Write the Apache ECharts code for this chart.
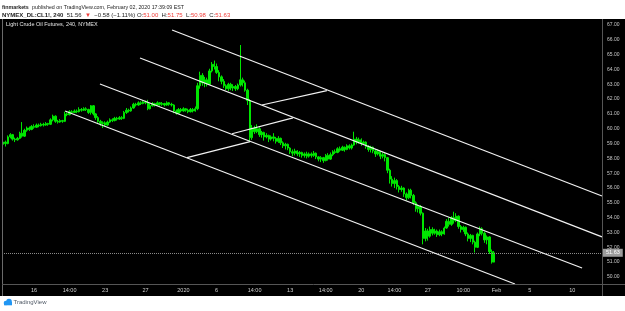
<!DOCTYPE html>
<html>
<head>
<meta charset="utf-8">
<title>Light Crude Oil Futures, 240, NYMEX</title>
<script src="https://cdn.jsdelivr.net/npm/echarts/dist/echarts.min.js"></script>
<style>
  html, body { margin: 0; padding: 0; background: #fff; }
  #chart { width: 625px; height: 311px; }
</style>
</head>
<body>
<div id="chart"></div>
<script>
// 4h bars, one row per bar: [open, close, low, high]
const ohlc = [
  [58.95, 59.10, 58.85, 59.15], [59.10, 59.00, 58.80, 59.20], [59.00, 59.45, 58.95, 59.55],
  [59.45, 59.60, 59.35, 59.70], [59.60, 59.30, 59.20, 59.65], [59.30, 59.25, 59.10, 59.40],
  [59.25, 59.35, 59.20, 59.45], [59.35, 59.70, 59.30, 59.80], [59.70, 59.50, 59.40, 60.45],
  [59.50, 59.90, 59.45, 60.00], [59.90, 60.05, 59.80, 60.15], [60.05, 59.95, 59.85, 60.15],
  [59.95, 60.15, 59.90, 60.25], [60.15, 60.10, 60.00, 60.30], [60.10, 60.25, 60.05, 60.35],
  [60.25, 60.20, 60.10, 60.35], [60.20, 60.30, 60.15, 60.40], [60.30, 60.25, 60.15, 60.40],
  [60.25, 60.35, 60.20, 60.45], [60.35, 60.30, 60.20, 60.40], [60.30, 60.60, 60.25, 60.70],
  [60.60, 60.85, 60.50, 60.95], [60.85, 60.50, 60.40, 60.90], [60.50, 60.45, 60.35, 60.60],
  [60.45, 60.55, 60.40, 60.65], [60.55, 60.50, 60.40, 60.60], [60.50, 61.00, 60.45, 61.15],
  [61.00, 60.95, 60.85, 61.10], [60.95, 61.15, 60.90, 61.25], [61.15, 61.10, 61.00, 61.25],
  [61.10, 61.20, 61.05, 61.30], [61.20, 61.15, 61.05, 61.30], [61.15, 61.30, 61.10, 61.45],
  [61.30, 61.25, 61.15, 61.40], [61.25, 61.35, 61.20, 61.45], [61.35, 61.30, 61.20, 61.45],
  [61.30, 61.10, 61.00, 61.35], [61.10, 61.55, 60.95, 61.60], [61.55, 61.00, 60.90, 61.60],
  [61.00, 60.75, 60.60, 61.05], [60.75, 60.50, 60.40, 60.85], [60.50, 60.35, 60.20, 60.60],
  [60.35, 60.40, 60.05, 60.50], [60.40, 60.25, 60.15, 60.50], [60.25, 60.45, 60.20, 60.55],
  [60.45, 60.60, 60.40, 60.70], [60.60, 60.55, 60.45, 60.70], [60.55, 60.70, 60.50, 60.80],
  [60.70, 60.65, 60.55, 60.80], [60.65, 60.75, 60.60, 60.85], [60.75, 60.70, 60.60, 60.85],
  [60.70, 61.10, 60.65, 61.20], [61.10, 61.25, 61.00, 61.40], [61.25, 61.20, 61.10, 61.35],
  [61.20, 61.40, 61.15, 61.50], [61.40, 61.65, 61.35, 61.75], [61.65, 61.60, 61.50, 61.75],
  [61.60, 61.75, 61.55, 61.85], [61.75, 61.70, 61.60, 61.85], [61.70, 61.80, 61.65, 61.90],
  [61.80, 61.75, 61.65, 61.90], [61.75, 61.35, 61.25, 61.95], [61.35, 61.55, 61.30, 61.70],
  [61.55, 61.70, 61.50, 61.80], [61.70, 61.60, 61.50, 61.75], [61.60, 61.75, 61.55, 61.85],
  [61.75, 61.65, 61.55, 61.80], [61.65, 61.70, 61.55, 61.80], [61.70, 61.60, 61.50, 61.75],
  [61.60, 61.75, 61.55, 61.85], [61.75, 61.65, 61.55, 61.80], [61.65, 61.60, 61.50, 61.75],
  [61.60, 61.20, 61.05, 61.65], [61.20, 61.05, 60.95, 61.30], [61.05, 61.30, 61.00, 61.40],
  [61.30, 61.20, 61.10, 61.40], [61.20, 61.35, 61.15, 61.45], [61.35, 61.25, 61.15, 61.40],
  [61.25, 61.15, 61.05, 61.35], [61.15, 61.30, 61.10, 61.40], [61.30, 61.20, 61.10, 61.40],
  [61.20, 61.35, 61.15, 61.50], [61.35, 62.90, 61.25, 63.10], [62.90, 63.60, 62.70, 63.85],
  [63.60, 63.10, 62.90, 63.75], [63.10, 63.30, 62.80, 63.50], [63.30, 63.00, 62.85, 63.45],
  [63.00, 63.90, 62.95, 64.05], [63.90, 64.35, 63.80, 64.50], [64.35, 64.20, 64.00, 64.60],
  [64.20, 63.80, 63.70, 64.40], [63.80, 63.50, 63.20, 63.95], [63.50, 63.20, 63.00, 63.60],
  [63.20, 62.90, 62.75, 63.35], [62.90, 62.70, 62.60, 63.00], [62.70, 63.00, 62.55, 63.10],
  [63.00, 62.75, 62.60, 63.10], [62.75, 62.85, 62.55, 63.00], [62.85, 62.70, 62.55, 62.95],
  [62.70, 62.95, 62.60, 63.05], [62.95, 63.30, 62.85, 65.65], [63.30, 63.10, 62.85, 63.45],
  [63.10, 62.60, 62.50, 63.25], [62.60, 61.90, 61.60, 62.70], [61.90, 59.40, 59.15, 62.00],
  [59.40, 60.05, 59.25, 60.25], [60.05, 59.80, 59.65, 60.20], [59.80, 60.00, 59.70, 60.30],
  [60.00, 59.60, 59.45, 60.10], [59.60, 59.75, 59.40, 59.85], [59.75, 59.45, 59.20, 59.80],
  [59.45, 59.55, 59.35, 59.70], [59.55, 59.30, 59.10, 59.60], [59.30, 59.45, 59.20, 59.55],
  [59.45, 59.35, 59.15, 59.70], [59.35, 59.15, 59.00, 59.45], [59.15, 59.35, 59.05, 59.50],
  [59.35, 59.05, 58.90, 59.40], [59.05, 58.85, 58.70, 59.15], [58.85, 58.95, 58.60, 59.05],
  [58.95, 58.70, 58.55, 59.00], [58.70, 58.45, 58.30, 58.75], [58.45, 58.35, 58.15, 58.60],
  [58.35, 58.50, 58.20, 58.65], [58.50, 58.30, 58.15, 58.55], [58.30, 58.40, 58.10, 58.50],
  [58.40, 58.20, 58.05, 58.45], [58.20, 58.30, 58.05, 58.40], [58.30, 58.15, 58.00, 58.45],
  [58.15, 58.30, 58.05, 58.40], [58.30, 58.20, 58.05, 58.40], [58.20, 58.35, 58.10, 58.50],
  [58.35, 58.10, 57.95, 58.40], [58.10, 57.95, 57.80, 58.15], [57.95, 58.05, 57.75, 58.15],
  [58.05, 57.85, 57.70, 58.10], [57.85, 58.20, 57.80, 58.30], [58.20, 57.95, 57.85, 58.35],
  [57.95, 58.25, 57.90, 58.40], [58.25, 58.45, 58.15, 58.55], [58.45, 58.40, 58.30, 58.60],
  [58.40, 58.65, 58.35, 58.75], [58.65, 58.55, 58.45, 58.80], [58.55, 58.75, 58.50, 58.85],
  [58.75, 58.60, 58.45, 58.80], [58.60, 58.85, 58.55, 58.95], [58.85, 58.70, 58.60, 58.95],
  [58.70, 58.90, 58.60, 59.00], [58.90, 59.30, 58.85, 59.80], [59.30, 59.10, 58.95, 59.45],
  [59.10, 59.25, 59.00, 59.40], [59.25, 59.00, 58.85, 59.35], [59.00, 59.10, 58.90, 59.20],
  [59.10, 58.80, 58.65, 59.15], [58.80, 58.60, 58.45, 58.90], [58.60, 58.75, 58.40, 58.85],
  [58.75, 58.50, 58.35, 58.80], [58.50, 58.30, 58.10, 58.60], [58.30, 58.45, 58.20, 58.60],
  [58.45, 58.15, 57.95, 58.50], [58.15, 58.25, 58.00, 58.40], [58.25, 58.05, 57.80, 58.35],
  [58.05, 57.20, 57.00, 58.10], [57.20, 56.60, 56.30, 57.30], [56.60, 56.30, 56.10, 56.80],
  [56.30, 56.50, 56.00, 56.70], [56.50, 56.10, 55.90, 56.60], [56.10, 55.90, 55.70, 56.20],
  [55.90, 56.00, 55.75, 56.15], [56.00, 55.60, 55.40, 56.05], [55.60, 55.35, 55.15, 55.70],
  [55.35, 55.85, 55.25, 55.95], [55.85, 55.50, 55.30, 55.95], [55.50, 55.00, 54.85, 55.60],
  [55.00, 54.60, 54.40, 55.10], [54.60, 54.75, 54.35, 54.90], [54.75, 54.30, 54.15, 54.85],
  [54.30, 52.60, 52.20, 54.35], [52.60, 53.10, 52.40, 53.30], [53.10, 52.75, 52.45, 53.25],
  [52.75, 53.20, 52.65, 53.40], [53.20, 52.95, 52.80, 53.35], [52.95, 53.10, 52.85, 53.25],
  [53.10, 52.85, 52.70, 53.20], [52.85, 53.05, 52.75, 53.20], [53.05, 52.90, 52.75, 53.15],
  [52.90, 53.30, 52.85, 53.40], [53.30, 53.75, 53.25, 53.90], [53.75, 53.55, 53.40, 54.00],
  [53.55, 54.00, 53.45, 54.10], [54.00, 53.80, 53.60, 54.40], [53.80, 54.10, 53.70, 54.30],
  [54.10, 53.40, 53.25, 54.15], [53.40, 53.20, 53.00, 53.50], [53.20, 53.35, 53.05, 53.45],
  [53.35, 52.90, 52.75, 53.40], [52.90, 52.60, 52.40, 53.00], [52.60, 52.80, 52.35, 52.90],
  [52.80, 52.35, 52.20, 52.85], [52.35, 52.00, 51.65, 52.45], [52.00, 52.90, 51.95, 53.00],
  [52.90, 53.25, 52.75, 53.40], [53.25, 52.95, 52.80, 53.35], [52.95, 52.50, 52.30, 53.05],
  [52.50, 52.70, 52.20, 52.80], [52.70, 51.70, 51.55, 52.75], [51.70, 51.00, 50.90, 51.85],
  [51.00, 51.63, 50.98, 51.75]
]

// bar slots on the time axis (data + empty space to the right)
const slotCount = 253
const slots = Array.from({ length: slotCount }, (_, i) => String(i))

// time axis labels: slot index -> text
const labelIndex = [13, 28, 43, 60, 76, 90, 106, 121, 136, 151, 165, 179, 194, 208, 222, 240]
const labelText = ['16', '14:00', '23', '27', '2020', '6', '14:00', '13', '14:00', '20', '14:00', '27', '10:00', 'Feb', '5', '10']

const lastPrice = 51.63

// channel drawing: [slot, price] end points
const channelLines = [
  [[71.2, 66.66], [252.5, 55.46]],
  [[57.7, 64.77], [252.5, 52.70]],
  [[40.8, 63.02], [244.1, 50.60]],
  [[26.1, 61.20], [215.8, 49.52]]
]
const connectorLines = [
  [[109.1, 61.60], [136.5, 62.57]],
  [[96.5, 59.66], [122.2, 60.73]],
  [[77.5, 58.05], [104.1, 59.13]]
]

const green = '#00e600'
const font = 'Liberation Sans'

const chart = echarts.init(document.getElementById('chart'))

const drawSeries = channelLines.concat(connectorLines).map(seg => ({
  type: 'line',
  xAxisIndex: 1,
  yAxisIndex: 0,
  data: seg,
  symbol: 'none',
  silent: true,
  z: 5,
  lineStyle: { color: '#f2f2f2', width: 1.2 }
}))

chart.setOption({
  animation: false,
  backgroundColor: '#fff',
  textStyle: { fontFamily: font },
  grid: {
    left: 2,
    right: 23,
    top: 10.18,
    bottom: 19.24,
    outerBoundsMode: 'none',
    containLabel: false
  },
  xAxis: [
    {
      type: 'category',
      data: slots,
      offset: -7.8,
      axisLine: { show: false },
      axisTick: { show: false },
      splitLine: { show: false },
      axisLabel: {
        color: '#d0d0d0',
        fontSize: 5.5,
        margin: 3.5,
        interval: idx => labelIndex.indexOf(idx) >= 0,
        formatter: v => {
          const k = labelIndex.indexOf(Number(v))
          return k >= 0 ? labelText[k] : ''
        }
      }
    },
    {
      // hidden linear twin of the time axis, used for the drawings
      type: 'value',
      min: -0.5,
      max: slotCount - 0.5,
      show: false
    }
  ],
  yAxis: {
    type: 'value',
    position: 'right',
    min: 49,
    max: 68,
    interval: 1,
    axisLine: { show: false },
    axisTick: { show: false },
    splitLine: { show: false },
    axisLabel: {
      color: '#c8c8c8',
      fontSize: 5,
      margin: 5,
      formatter: v => (v < 50 || v > 67) ? '' : v.toFixed(2)
    }
  },
  series: [
    {
      type: 'candlestick',
      data: ohlc,
      barWidth: '80%',
      z: 3,
      itemStyle: {
        color: green,
        color0: green,
        borderColor: green,
        borderColor0: green,
        borderWidth: 1
      },
      markLine: {
        silent: true,
        symbol: 'none',
        animation: false,
        data: [{ yAxis: lastPrice }],
        lineStyle: { color: '#8a8a8a', type: 'dotted', width: 1 },
        label: {
          position: 'end',
          distance: 1,
          formatter: lastPrice.toFixed(2),
          backgroundColor: '#9c9c9c',
          color: '#ffffff',
          fontSize: 5.5,
          padding: [1, 3]
        }
      }
    }
  ].concat(drawSeries),
  graphic: [
    // dark chart pane
    { type: 'rect', z: -10, silent: true, shape: { x: 0, y: 19, width: 625, height: 277 }, style: { fill: '#000' } },
    // pane borders / axis lines
    { type: 'line', z: 10, silent: true, shape: { x1: 2.5, y1: 19, x2: 2.5, y2: 296 }, style: { stroke: '#6a6a6a', lineWidth: 1 } },
    { type: 'line', z: 10, silent: true, shape: { x1: 602.5, y1: 19, x2: 602.5, y2: 296 }, style: { stroke: '#555', lineWidth: 1 } },
    { type: 'line', z: 10, silent: true, shape: { x1: 2, y1: 284.5, x2: 625, y2: 284.5 }, style: { stroke: '#555', lineWidth: 1 } },
    // header
    {
      type: 'text', left: 2, top: 1.5, silent: true,
      style: {
        text: '{b|finmarkets} {n|published on TradingView.com, February 02, 2020 17:39:09 EST}',
        fill: '#222',
        rich: {
          b: { font: 'bold 5.3px ' + font },
          n: { font: '5.3px ' + font }
        }
      }
    },
    {
      type: 'text', left: 2, top: 9.5, silent: true,
      style: {
        text: '{b|NYMEX_DL:CL1!, 240} {n|51.56} {r|▼} {n|−0.58 (−1.11%) O:}{r|51.00} {n|H:}{r|51.75} {n|L:}{r|50.98} {n|C:}{r|51.63}',
        fill: '#222',
        rich: {
          b: { font: 'bold 6px ' + font },
          n: { font: '6px ' + font },
          r: { font: '6px ' + font, fill: '#f0403c', color: '#f0403c' }
        }
      }
    },
    // pane title
    {
      type: 'text', left: 6, top: 21, silent: true, z: 10,
      style: { text: 'Light Crude Oil Futures, 240, NYMEX', font: '5.5px ' + font, fill: '#e6e6e6' }
    },
    // TradingView mark
    { type: 'circle', silent: true, shape: { cx: 6, cy: 303, r: 2.3 }, style: { fill: '#2196f3' } },
    { type: 'circle', silent: true, shape: { cx: 9, cy: 301.5, r: 2.8 }, style: { fill: '#2196f3' } },
    { type: 'rect', silent: true, shape: { x: 4, y: 302, width: 8, height: 3.3 }, style: { fill: '#2196f3' } },
    {
      type: 'text', left: 13.5, top: 299, silent: true,
      style: { text: 'TradingView', font: '6px ' + font, fill: '#505a66' }
    }
  ]
})
</script>
</body>
</html>
